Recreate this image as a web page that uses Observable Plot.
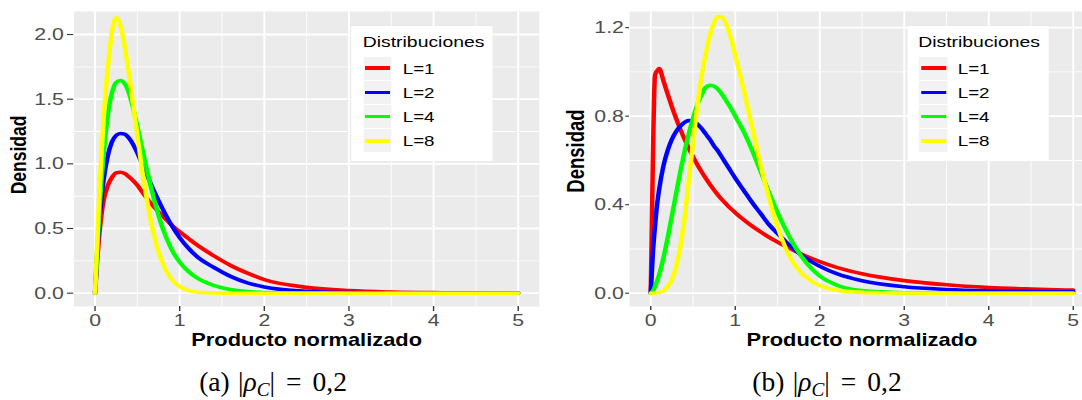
<!DOCTYPE html>
<html lang="es">
<head>
<meta charset="utf-8">
<script src="https://cdn.jsdelivr.net/npm/d3@7"></script>
<script src="https://cdn.jsdelivr.net/npm/@observablehq/plot@0.6"></script>
<style>
  html, body { margin: 0; padding: 0; background: #fff; width: 1082px; height: 400px; overflow: hidden; }
  /* the two ggplot-style panels are laid out on an 875px-wide canvas and widened to the page */
  #fig { position: absolute; left: 0; top: 0; width: 875px; height: 355px; transform: scaleX(1.25); transform-origin: 0 0; }
  .slot { position: absolute; top: 0; }
  .slot svg { max-width: none; display: block; }
  .legend { position: absolute; top: 25.7px; width: 112.4px; height: 135px; background: #fff;
            font-family: "Liberation Sans", Arial, sans-serif; color: #000; }
  .legend .ttl { position: absolute; top: 8px; font-size: 15.5px; line-height: 15.5px; white-space: nowrap; }
  .legend .key { position: absolute; left: 9.2px; width: 22.7px; height: 23px; background: #F2F2F2; }
  .legend .key i { position: absolute; left: 1.4px; width: 20px; height: 3.7px; top: 9.65px; }
  .legend .lab { position: absolute; font-size: 15px; line-height: 23px; white-space: nowrap; }
  .caption { position: absolute; top: 367px; transform: translateX(-50%); white-space: nowrap;
             font-family: "Liberation Serif", "DejaVu Serif", serif; font-size: 27.5px; line-height: 30px; color: #000; }
  .caption .gap { margin-left: 0.3em; }
  .caption .eq { margin: 0 0.4em; }
  .caption sub { font-size: 0.7em; vertical-align: -0.25em; }
</style>
</head>
<body>
<div id="fig"></div>
<div class="caption" style="left:273px">(a)<span class="gap"></span>|<i>ρ</i><sub><i>C</i></sub>|<span class="eq">=</span>0,2</div>
<div class="caption" style="left:827px">(b)<span class="gap"></span>|<i>ρ</i><sub><i>C</i></sub>|<span class="eq">=</span>0,2</div>
<script>
// Series shared by both panels
const seriesNames = ["L=1", "L=2", "L=4", "L=8"];
const seriesColors = ["#FF0000", "#0000FF", "#00FF00", "#FFFF00"];
const legendTitle = "Distribuciones";
const xTitle = "Producto normalizado";
const yTitle = "Densidad";

// Axis breaks
const xTicks = [0, 1, 2, 3, 4, 5];
const xMinor = [0.5, 1.5, 2.5, 3.5, 4.5];
const yTicksA = [0, 0.5, 1, 1.5, 2];
const yMinorA = [0.25, 0.75, 1.25, 1.75];
const yTicksB = [0, 0.4, 0.8, 1.2];
const yMinorB = [0.2, 0.6, 1.0];

// Panel (a): density of the normalized product
const xA = [0, 0.025, 0.05, 0.075, 0.1, 0.15, 0.2, 0.25, 0.3, 0.35, 0.4, 0.45, 0.5, 0.55, 0.6, 0.7, 0.8, 0.9, 1.0, 1.1, 1.2, 1.4, 1.6, 1.8, 2.0, 2.5, 3.0, 3.5, 4.0, 4.5, 5.0];
const a_L1 = [0, 0.25, 0.45, 0.6, 0.71, 0.83, 0.895, 0.93, 0.935, 0.925, 0.9, 0.87, 0.835, 0.79, 0.745, 0.665, 0.595, 0.53, 0.475, 0.425, 0.375, 0.29, 0.215, 0.155, 0.105, 0.045, 0.02, 0.009, 0.004, 0.002, 0.001];
const a_L2 = [0, 0.3, 0.55, 0.73, 0.87, 1.06, 1.17, 1.22, 1.235, 1.23, 1.2, 1.15, 1.085, 1.01, 0.935, 0.785, 0.65, 0.53, 0.43, 0.35, 0.285, 0.2, 0.13, 0.08, 0.048, 0.014, 0.004, 0.001, 0, 0, 0];
const a_L4 = [0, 0.32, 0.62, 0.86, 1.06, 1.37, 1.55, 1.63, 1.645, 1.62, 1.55, 1.43, 1.29, 1.14, 0.99, 0.72, 0.5, 0.345, 0.24, 0.17, 0.12, 0.06, 0.028, 0.012, 0.005, 0.001, 0, 0, 0, 0, 0];
const a_L8 = [0, 0.38, 0.75, 1.06, 1.33, 1.73, 2.02, 2.13, 2.07, 1.91, 1.7, 1.46, 1.22, 0.98, 0.77, 0.44, 0.23, 0.11, 0.05, 0.022, 0.009, 0.002, 0, 0, 0, 0, 0, 0, 0, 0, 0];

// Panel (b)
const xB = [0, 0.025, 0.05, 0.075, 0.1, 0.15, 0.2, 0.25, 0.3, 0.35, 0.4, 0.45, 0.5, 0.55, 0.6, 0.65, 0.7, 0.75, 0.8, 0.85, 0.9, 0.95, 1.0, 1.1, 1.2, 1.3, 1.4, 1.5, 1.6, 1.7, 1.8, 1.9, 2.0, 2.2, 2.5, 3.0, 3.5, 4.0, 4.5, 5.0];
const b_L1 = [0, 0.6, 0.985, 1.005, 1.015, 0.96, 0.9, 0.843, 0.79, 0.741, 0.696, 0.655, 0.617, 0.582, 0.55, 0.52, 0.492, 0.466, 0.442, 0.42, 0.4, 0.381, 0.364, 0.332, 0.303, 0.277, 0.253, 0.231, 0.211, 0.192, 0.174, 0.158, 0.143, 0.117, 0.088, 0.057, 0.038, 0.026, 0.019, 0.014];
const b_L2 = [0, 0.18, 0.3, 0.4, 0.47, 0.575, 0.645, 0.695, 0.73, 0.755, 0.772, 0.78, 0.778, 0.765, 0.745, 0.72, 0.695, 0.665, 0.64, 0.61, 0.58, 0.55, 0.52, 0.465, 0.41, 0.36, 0.31, 0.27, 0.232, 0.198, 0.168, 0.143, 0.122, 0.088, 0.056, 0.029, 0.017, 0.011, 0.008, 0.006];
const b_L4 = [0, 0.01, 0.03, 0.055, 0.085, 0.16, 0.25, 0.35, 0.45, 0.55, 0.64, 0.72, 0.79, 0.85, 0.895, 0.93, 0.94, 0.935, 0.92, 0.895, 0.865, 0.835, 0.8, 0.73, 0.645, 0.55, 0.455, 0.365, 0.285, 0.215, 0.158, 0.112, 0.078, 0.037, 0.012, 0.002, 0, 0, 0, 0];
const b_L8 = [0, 0, 0.001, 0.002, 0.004, 0.012, 0.03, 0.06, 0.12, 0.21, 0.34, 0.51, 0.68, 0.84, 0.975, 1.08, 1.165, 1.225, 1.25, 1.245, 1.21, 1.15, 1.075, 0.92, 0.75, 0.58, 0.43, 0.3, 0.2, 0.13, 0.085, 0.055, 0.035, 0.014, 0.004, 0.001, 0, 0, 0, 0];

const FONT = "'Liberation Sans', Arial, Helvetica, sans-serif";

function tidy(xs, series) {
  return series.flatMap((ys, i) => xs.map((x, j) => ({x, y: ys[j], L: seriesNames[i]})));
}

function panel(o) {
  return Plot.plot({
    width: o.width,
    height: 355,
    marginTop: 11,
    marginBottom: 49,
    marginLeft: o.marginLeft,
    marginRight: o.marginRight,
    style: {fontFamily: FONT, fontSize: "17px", background: "transparent", overflow: "visible"},
    x: {domain: [-0.25, 5.25]},
    y: {domain: o.yDomain},
    color: {domain: seriesNames, range: seriesColors},
    marks: [
      Plot.frame({fill: "#EBEBEB", stroke: "none"}),
      Plot.gridX(xMinor, {stroke: "#FFFFFF", strokeOpacity: 1, strokeWidth: 0.75}),
      Plot.gridY(o.yMinor, {stroke: "#FFFFFF", strokeOpacity: 1, strokeWidth: 0.9}),
      Plot.gridX(xTicks, {stroke: "#FFFFFF", strokeOpacity: 1, strokeWidth: 1.5}),
      Plot.gridY(o.yTicks, {stroke: "#FFFFFF", strokeOpacity: 1, strokeWidth: 1.8}),
      Plot.axisX(xTicks, {tickSize: o.xTickSize, tickPadding: o.xTickPad, tickFormat: d3.format("d"),
                          color: "#4D4D4D", stroke: "#333333", strokeWidth: 1.1, label: null}),
      Plot.axisY(o.yTicks, {tickSize: o.yTickSize, tickPadding: o.yTickPad, tickFormat: d3.format(".1f"),
                            color: "#4D4D4D", stroke: "#333333", strokeWidth: 1.1, label: null}),
      Plot.line(o.rows, {x: "x", y: "y", stroke: "L", strokeWidth: 3.6, curve: "monotone-x"}),
      Plot.text([xTitle], {text: d => d, frameAnchor: "bottom", lineAnchor: "top", dy: 27,
                           fontSize: 17.5, fontWeight: "bold", fill: "#000"}),
      Plot.text([yTitle], {text: d => d, frameAnchor: "left", textAnchor: "middle", rotate: -90,
                           dx: o.titleDx, dy: o.titleDy, fontSize: o.titleSize, fontWeight: "bold", fill: "#000"})
    ]
  });
}

function legend(left, titleLeft, labelLeft) {
  const box = document.createElement("div");
  box.className = "legend";
  box.style.left = left + "px";
  const t = document.createElement("div");
  t.className = "ttl";
  t.style.left = titleLeft + "px";
  t.textContent = legendTitle;
  box.appendChild(t);
  seriesNames.forEach((name, i) => {
    const top = 31 + i * 24.2;
    const key = document.createElement("div");
    key.className = "key";
    key.style.top = top + "px";
    const seg = document.createElement("i");
    seg.style.background = seriesColors[i];
    key.appendChild(seg);
    box.appendChild(key);
    const lab = document.createElement("div");
    lab.className = "lab";
    lab.style.top = top + "px";
    lab.style.left = labelLeft + "px";
    lab.textContent = name;
    box.appendChild(lab);
  });
  return box;
}

const fig = document.getElementById("fig");

const slotA = document.createElement("div");
slotA.className = "slot";
slotA.style.left = "0px";
slotA.appendChild(panel({
  rows: tidy(xA, [a_L1, a_L2, a_L4, a_L8]),
  width: 432, marginLeft: 58.6, marginRight: 1,
  yDomain: [-0.103, 2.178], yTicks: yTicksA, yMinor: yMinorA,
  xTickSize: 5, xTickPad: 2, yTickSize: 5, yTickPad: 3,
  titleDx: -43.6, titleDy: -4, titleSize: 17.5
}));
fig.appendChild(slotA);

const slotB = document.createElement("div");
slotB.className = "slot";
slotB.style.left = "432px";
slotB.appendChild(panel({
  rows: tidy(xB, [b_L1, b_L2, b_L4, b_L8]),
  width: 443, marginLeft: 71.2, marginRight: 0,
  yDomain: [-0.06, 1.273], yTicks: yTicksB, yMinor: yMinorB,
  xTickSize: 4, xTickPad: 3, yTickSize: 3, yTickPad: 1.6,
  titleDx: -42.5, titleDy: -8, titleSize: 18.5
}));
fig.appendChild(slotB);

fig.appendChild(legend(281.4, 8.8, 40.8));
fig.appendChild(legend(726.2, 8.4, 40));
</script>
</body>
</html>
